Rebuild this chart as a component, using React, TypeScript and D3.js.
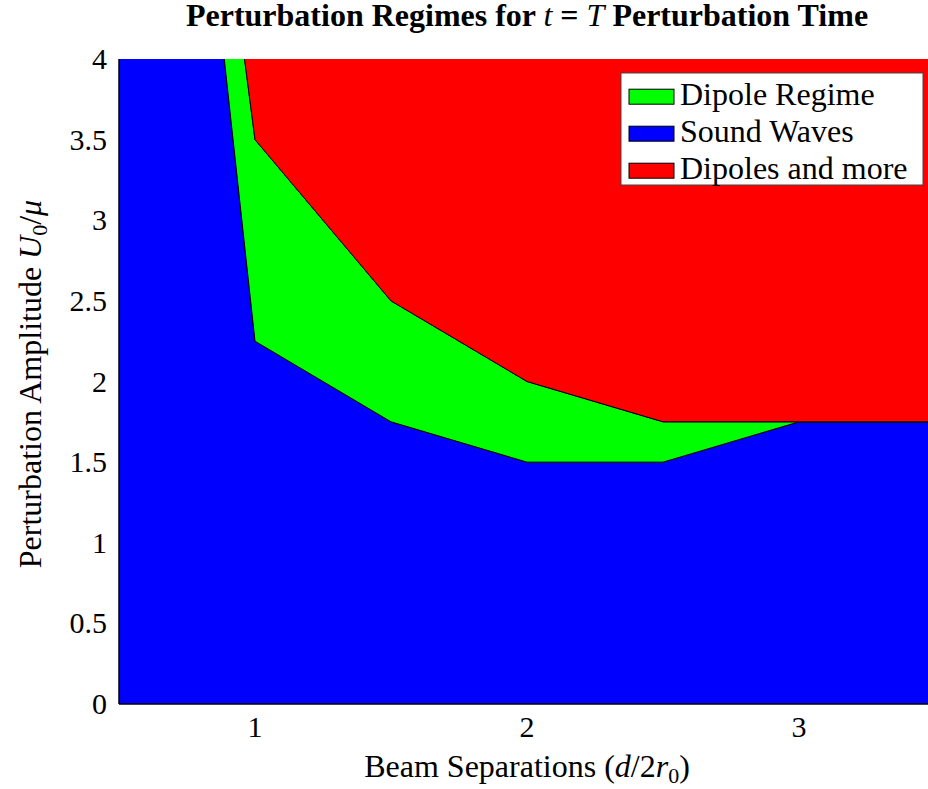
import React from 'react';
import * as d3 from 'd3';

// beam separation samples (d/2r0)
const separations = [0.5, 1, 1.5, 2, 2.5, 3, 3.5];
// upper boundary of the sound-wave regime
const soundTop = [10, 2.25, 1.75, 1.5, 1.5, 1.75, 1.75];
// upper boundary of the dipole regime
const dipoleTop = [10, 3.5, 2.5, 2, 1.75, 1.75, 1.75];
// ceiling of the "dipoles and more" region (clipped by the axis)
const ceiling = [10, 10, 10, 10, 10, 10, 10];

const xTicks = [1, 2, 3];
const yTicks = [0, 0.5, 1, 1.5, 2, 2.5, 3, 3.5, 4];

const legendItems = [
  { label: 'Dipole Regime', color: '#00ff00' },
  { label: 'Sound Waves', color: '#0000ff' },
  { label: 'Dipoles and more', color: '#ff0000' },
];

const W = 928;
const H = 789;
const margin = { left: 119, top: 59, right: -7, bottom: 85 };
const font = '"Liberation Serif", "Times New Roman", serif';

export default function App() {
  const x = d3.scaleLinear().domain([0.5, 3.5]).range([margin.left, W - margin.right]);
  const y = d3.scaleLinear().domain([0, 4]).range([H - margin.bottom, margin.top]);

  const band = (lo: number[], hi: number[]) =>
    d3.area<number>()
      .x((_, i) => x(separations[i]))
      .y0((_, i) => y(lo[i]))
      .y1((_, i) => y(hi[i]))(separations.map((_, i) => i)) || '';

  const zeros = separations.map(() => 0);
  const regions = [
    { d: band(zeros, soundTop), color: '#0000ff' },
    { d: band(soundTop, dipoleTop), color: '#00ff00' },
    { d: band(dipoleTop, ceiling), color: '#ff0000' },
  ];

  const plotW = x(3.5) - x(0.5);
  const plotH = y(0) - y(4);
  const cx = (x(0.5) + x(3.5)) / 2;

  return (
    <div style={{ position: 'absolute', left: 0, top: 0 }}>
      <svg width={W} height={H} style={{ display: 'block', fontFamily: font }}>
        <defs>
          <clipPath id="plot">
            <rect x={x(0.5) - 1} y={y(4)} width={plotW + 2} height={plotH + 1} />
          </clipPath>
        </defs>

        <g clipPath="url(#plot)">
          {regions.map((r, i) => (
            <path key={i} d={r.d} fill={r.color} stroke="#000" strokeWidth={1} strokeLinejoin="round" />
          ))}
        </g>

        {/* axis box (left + bottom visible) */}
        <line x1={x(0.5)} x2={x(0.5)} y1={y(0)} y2={y(4)} stroke="#000" strokeWidth={1} />
        <line x1={x(0.5)} x2={x(3.5)} y1={y(0)} y2={y(0)} stroke="#000" strokeWidth={1} />

        {/* tick labels */}
        {xTicks.map(t => (
          <text key={t} x={x(t)} y={737} textAnchor="middle" fontSize={30} fill="#000">{t}</text>
        ))}
        {yTicks.map(t => (
          <text key={t} x={107} y={y(t) + 10} textAnchor="end" fontSize={30} fill="#000">{t}</text>
        ))}

        {/* title */}
        <text x={cx} y={26} textAnchor="middle" fontSize={32} fontWeight="bold" fill="#000">
          Perturbation Regimes for <tspan fontStyle="italic" fontWeight="normal">t</tspan> = <tspan fontStyle="italic" fontWeight="normal">T</tspan> Perturbation Time
        </text>

        {/* x label */}
        <text x={cx} y={777} textAnchor="middle" fontSize={32} fill="#000">
          Beam Separations (<tspan fontStyle="italic">d</tspan>/2<tspan fontStyle="italic">r</tspan><tspan fontSize={22} dy={6}>0</tspan><tspan dy={-6}>)</tspan>
        </text>

        {/* y label */}
        <text transform={`translate(41, 384) rotate(-90)`} textAnchor="middle" fontSize={32} fill="#000">
          Perturbation Amplitude <tspan fontStyle="italic">U</tspan><tspan fontSize={22} dy={6}>0</tspan><tspan dy={-6}>/</tspan><tspan fontStyle="italic">μ</tspan>
        </text>

        {/* legend */}
        <g transform="translate(621, 73)">
          <rect x={0} y={0} width={302} height={112} fill="#fff" stroke="#444" strokeWidth={1} />
          {legendItems.map((it, i) => (
            <g key={it.label} transform={`translate(0, ${23.7 + i * 37})`}>
              <rect x={8} y={-7.5} width={45} height={15} fill={it.color} stroke="#000" strokeWidth={1} />
              <text x={59} y={8.6} fontSize={32} fill="#000">{it.label}</text>
            </g>
          ))}
        </g>
      </svg>
    </div>
  );
}
